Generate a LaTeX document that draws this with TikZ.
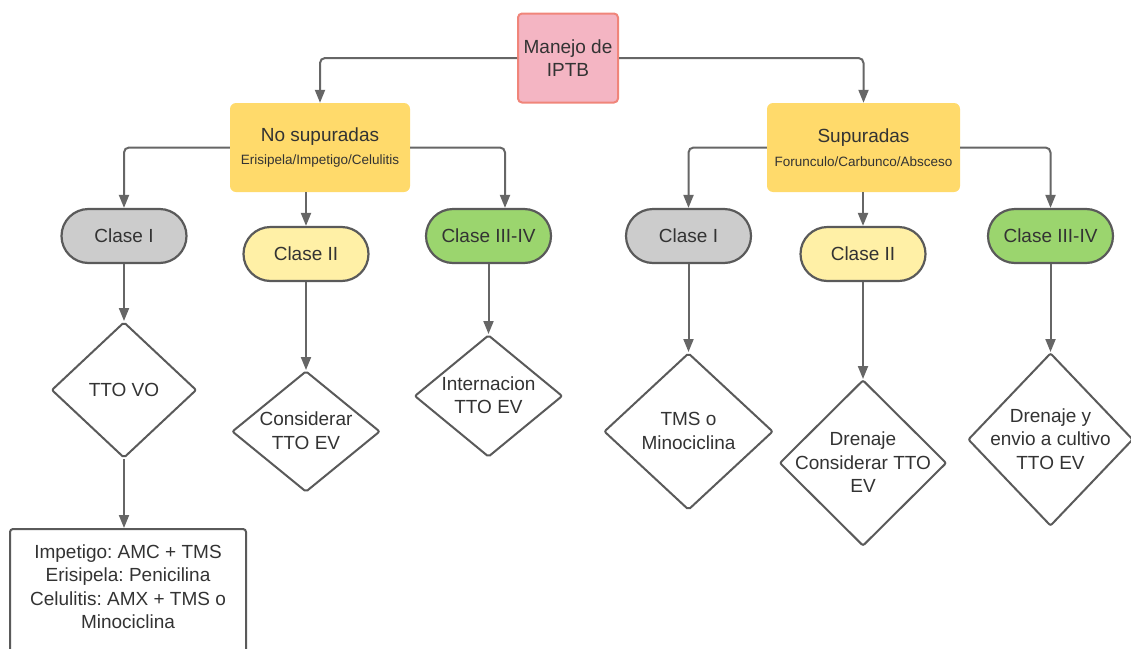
\documentclass[tikz,border=0pt]{standalone}
\usepackage{fontspec}
\setmainfont{Liberation Sans}
\usetikzlibrary{shapes.geometric,arrows.meta}
\frenchspacing
\definecolor{txtgray}{HTML}{333333}
\definecolor{linegray}{HTML}{666666}
\definecolor{edgegray}{HTML}{5A5A5A}
\definecolor{rootfill}{HTML}{F4B5C3}
\definecolor{rootedge}{HTML}{F0857A}
\definecolor{groupfill}{HTML}{FFDA6B}
\definecolor{graycls}{HTML}{CCCCCC}
\definecolor{yellowcls}{HTML}{FFF0A6}
\definecolor{greencls}{HTML}{9BD56E}
\newcommand{\dialines}[1]{\smash{\makebox[0pt]{\raisebox{-.3em}{\begin{tabular}{@{}c@{}}#1\end{tabular}}}}}
\tikzset{
	lbl/.style={font=\fontsize{19}{23.5}\selectfont, text=txtgray},
	rootbox/.style={lbl, rectangle, rounded corners=4pt, draw=rootedge, fill=rootfill, line width=2pt, minimum width=100pt, minimum height=89pt, inner sep=0pt, align=center},
	groupbox/.style={lbl, rectangle, rounded corners=6pt, fill=groupfill, minimum height=89pt, inner sep=0pt, align=center},
	clsbox/.style={lbl, rectangle, rounded corners=27pt, draw=edgegray, line width=2.2pt, minimum width=125pt, minimum height=54pt, inner sep=0pt},
	dia/.style={lbl, diamond, draw=edgegray, fill=white, line width=2pt, inner sep=0pt, rounded corners=2pt},
	arr/.style={draw=linegray, line width=2pt, rounded corners=5pt, -{Triangle[length=13pt,width=10pt]}},
	txtbox/.style={lbl, rectangle, rounded corners=3pt, draw=edgegray, line width=2pt, minimum width=236pt, inner xsep=0pt, inner ysep=13pt, anchor=north, text depth=70pt}
}

\begin{document}
\begin{tikzpicture}[x=1pt, y=-1pt]
			%%%%% START %%%%%
			
			\clip (0, 0) rectangle (1131, 648);
			
			\node[rootbox] (root) at (568, 58) {Manejo de\\IPTB};
			
			\node[groupbox, minimum width=180pt] (nosup) at (320, 147.5) {No supuradas\\{\fontsize{13.5}{16}\selectfont Erisipela/Impetigo/Celulitis}};
			\node[groupbox, minimum width=193pt] (sup) at (863.5, 147.5) {Supuradas\\{\fontsize{13.5}{16}\selectfont Forunculo/Carbunco/Absceso}};
			
			\node[clsbox, fill=graycls] (clsIa) at (124, 236) {Clase I};
			\node[clsbox, fill=yellowcls] (clsIIa) at (306, 254) {Clase II};
			\node[clsbox, fill=greencls] (clsIIIa) at (488.5, 236) {Clase III-IV};
			\node[clsbox, fill=graycls] (clsIb) at (688.5, 236) {Clase I};
			\node[clsbox, fill=yellowcls] (clsIIb) at (863, 254) {Clase II};
			\node[clsbox, fill=greencls] (clsIIIb) at (1050.5, 236) {Clase III-IV};
			
			\node[dia, minimum width=145pt, minimum height=136pt] (ttoVO) at (124, 390) {\dialines{TTO VO}};
			\node[dia, minimum width=148pt, minimum height=121pt] (consEV) at (306, 431.5) {\dialines{Considerar\\TTO EV}};
			\node[dia, minimum width=148pt, minimum height=122pt] (internEV) at (488.5, 396) {\dialines{Internacion\\TTO EV}};
			\node[dia, minimum width=169pt, minimum height=157pt] (tmsMino) at (688.5, 431.5) {\dialines{TMS o\\Minociclina}};
			\node[dia, minimum width=167pt, minimum height=166pt] (drenCons) at (863, 463) {\dialines{Drenaje\\Considerar TTO\\EV}};
			\node[dia, minimum width=165pt, minimum height=173pt] (drenCult) at (1050.5, 439.5) {\dialines{Drenaje y\\envio a cultivo\\TTO EV}};
			
			\node[txtbox] (tratam) at (128, 528) {\begin{tabular}{@{}c@{}}Impetigo: AMC + TMS\\Erisipela: Penicilina\\Celulitis: AMX + TMS o\\Minociclina\end{tabular}};
			
			\draw[arr] (root.west) -| (nosup.north);
			\draw[arr] (root.east) -| (sup.north);
			
			\draw[arr] (nosup.west) -| (clsIa.north);
			\draw[arr] (clsIIa.north |- nosup.south) -- (clsIIa.north);
			\draw[arr] (nosup.east) -| ([xshift=16.5pt]clsIIIa.north);
			\draw[arr] (sup.west) -| (clsIb.north);
			\draw[arr] (clsIIb.north |- sup.south) -- (clsIIb.north);
			\draw[arr] (sup.east) -| (clsIIIb.north);
			
			\draw[arr] (clsIa.south) -- (ttoVO.north);
			\draw[arr] (clsIIa.south) -- (consEV.north);
			\draw[arr] (clsIIIa.south) -- (internEV.north);
			\draw[arr] (clsIb.south) -- (tmsMino.north);
			\draw[arr] (clsIIb.south) -- (drenCons.north);
			\draw[arr] (clsIIIb.south) -- (drenCult.north);
			
			\draw[arr] (ttoVO.south) -- (ttoVO.south |- tratam.north);
			
			%%%%% END %%%%%
\end{tikzpicture}
\end{document}
